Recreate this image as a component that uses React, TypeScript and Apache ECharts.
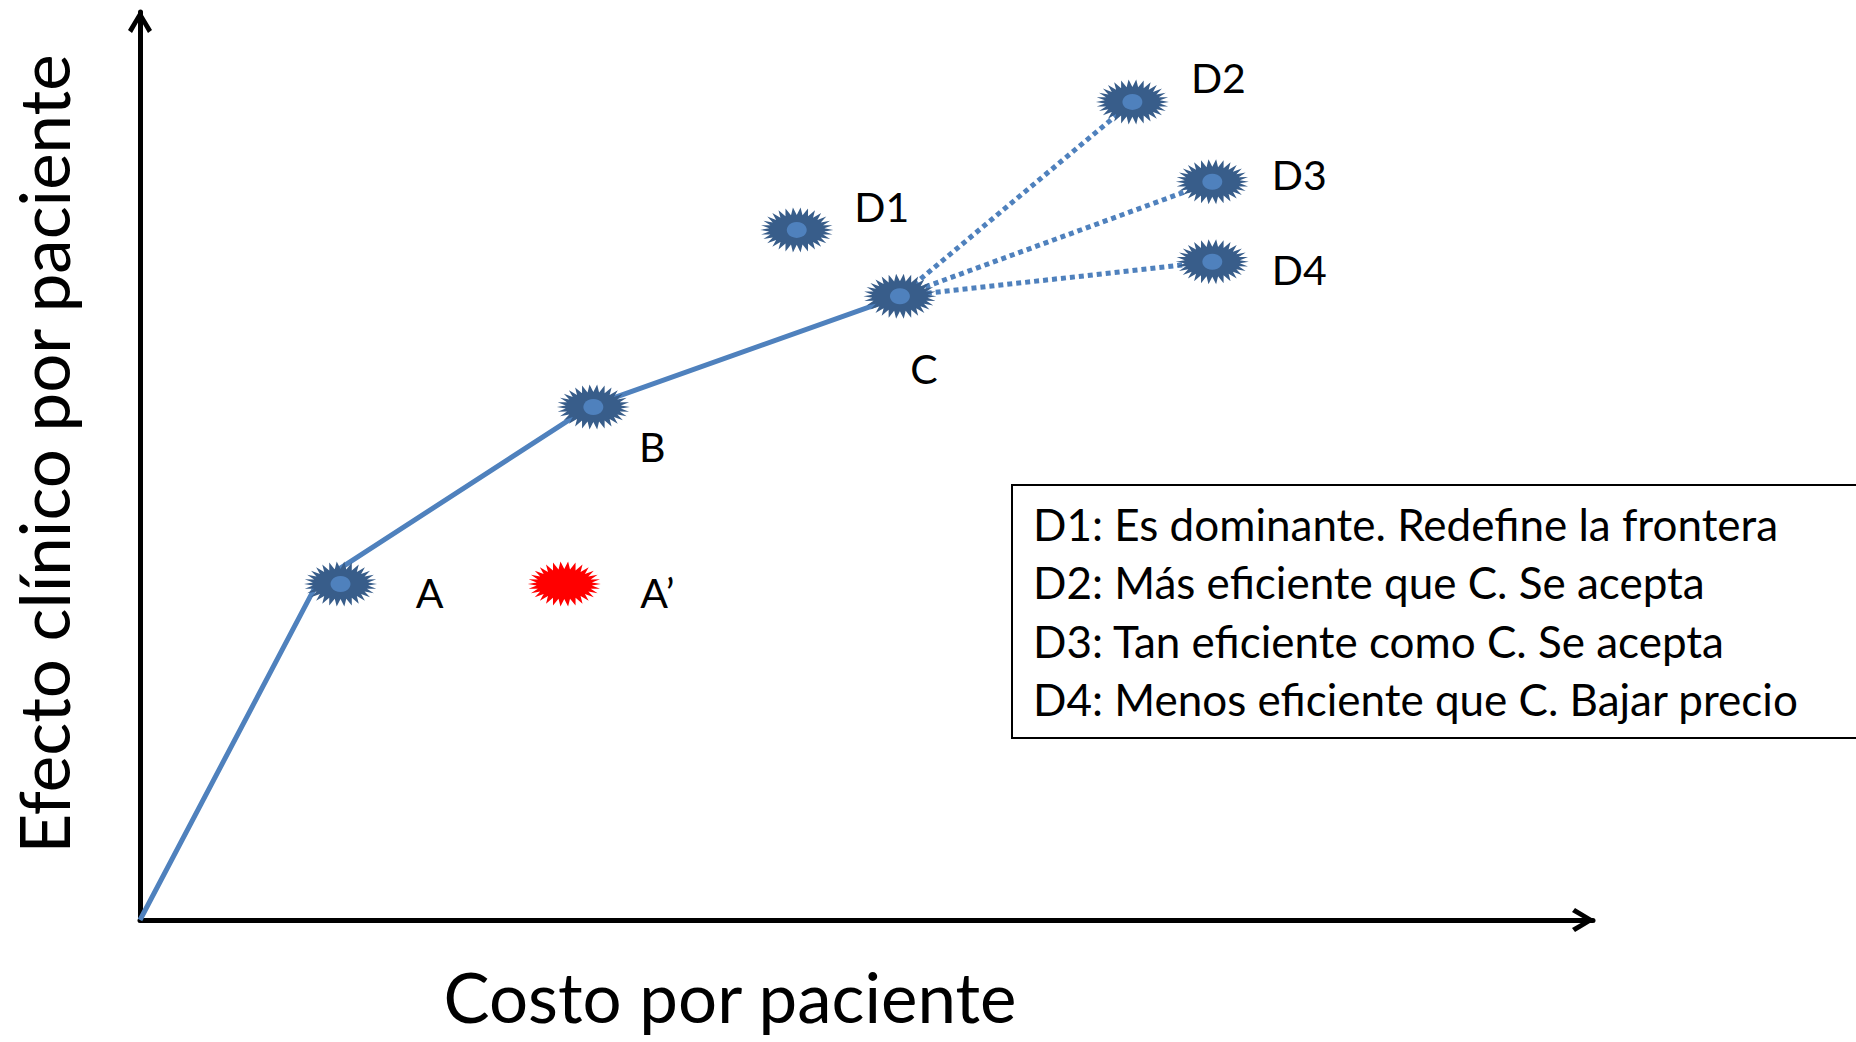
import React, { useEffect, useRef } from "react";
import * as echarts from "echarts";

// Efficiency frontier (cost vs clinical effect), arbitrary units 0..100
const frontierCost = [0, 12.2, 31.0, 52.3];
const frontierEffect = [0, 37.1, 56.6, 68.7];

const pointNames = ["A", "A\u2019", "B", "C", "D1", "D2", "D3", "D4"];
const pointCost = [13.8, 29.2, 31.2, 52.3, 45.2, 68.3, 73.8, 73.8];
const pointEffect = [37.0, 37.0, 56.5, 68.7, 76.0, 90.1, 81.3, 72.5];

// dotted links from C to these points
const linkFrom = "C";
const linkTo = ["D2", "D3", "D4"];

const legendLines = [
  "D1: Es dominante. Redefine la frontera",
  "D2: M\u00e1s eficiente que C. Se acepta",
  "D3: Tan eficiente como C. Se acepta",
  "D4: Menos eficiente que C. Bajar precio",
];

const xTitle = "Costo por paciente";
const yTitle = "Efecto cl\u00ednico por paciente";

// styling: label offsets relative to marker centre (px)
const labelOffsets: Record<string, [number, number]> = {
  A: [89, 8],
  "A\u2019": [93, 8],
  B: [59, 40],
  C: [24, 72],
  D1: [85, -23],
  D2: [86, -24],
  D3: [87, -7],
  D4: [87, 8],
};
const redPoints = ["A\u2019"];

const FONT = "Lato, 'Open Sans', sans-serif";
const BLUE = "#4F81BD";
const DARK = "#385D8A";

function starburst(n: number, irx: number, iry: number): string {
  let d = "";
  for (let i = 0; i < 2 * n; i++) {
    const a = (i * Math.PI) / n;
    const outer = i % 2 === 0;
    const rx = outer ? 50 : irx;
    const ry = outer ? 50 : iry;
    const x = 50 + rx * Math.cos(a);
    const y = 50 + ry * Math.sin(a);
    d += (i === 0 ? "M" : "L") + x.toFixed(2) + "," + y.toFixed(2);
  }
  return "path://" + d + "Z";
}

const chevronUp = "path://M12,0L24,20L20,23L12,9L4,23L0,20Z";

export default function App() {
  const ref = useRef<HTMLDivElement>(null);
  useEffect(() => {
    if (!ref.current) return;
    const chart = echarts.init(ref.current, undefined, { renderer: "svg" });
    const star = starburst(30, 38, 33);
    const idx = (n: string) => pointNames.indexOf(n);
    const ci = idx(linkFrom);

    const linkSeries = linkTo.map((t) => ({
      type: "line",
      z: 2,
      symbol: "none",
      silent: true,
      lineStyle: { color: BLUE, width: 5, type: [5, 4], cap: "butt" },
      data: [
        [pointCost[ci], pointEffect[ci]],
        [pointCost[idx(t)], pointEffect[idx(t)]],
      ],
    }));

    const pts = pointNames.map((n, i) => ({
      name: n,
      value: [pointCost[i], pointEffect[i]],
      itemStyle: { color: redPoints.includes(n) ? "#FF0000" : DARK, opacity: 1 },
      label: { offset: labelOffsets[n] },
    }));

    const axisCommon = {
      type: "value",
      min: 0,
      max: 100,
      axisLine: {
        show: true,
        onZero: false,
        symbol: ["none", chevronUp],
        symbolSize: [24, 23],
        symbolOffset: [0, -9.5],
        lineStyle: { color: "#000", width: 5 },
      },
      axisTick: { show: false },
      axisLabel: { show: false },
      splitLine: { show: false },
    };

    chart.setOption({
      animation: false,
      backgroundColor: "#ffffff",
      grid: { left: 140, right: 263, top: 12, bottom: 122, containLabel: false },
      xAxis: axisCommon,
      yAxis: axisCommon,
      series: [
        {
          type: "line",
          z: 2,
          symbol: "none",
          silent: true,
          lineStyle: { color: BLUE, width: 5 },
          data: frontierCost.map((x, i) => [x, frontierEffect[i]]),
        },
        ...linkSeries,
        {
          type: "scatter",
          z: 3,
          symbol: star,
          symbolSize: [73, 45],
          silent: true,
          itemStyle: { opacity: 1 },
          data: pts,
          label: {
            show: true,
            position: "inside",
            formatter: (p: any) => p.name,
            color: "#000",
            fontFamily: FONT,
            fontSize: 41,
          },
        },
        {
          type: "scatter",
          z: 4,
          symbol: "circle",
          symbolSize: [20, 16],
          silent: true,
          itemStyle: { color: BLUE, opacity: 1 },
          data: pointNames
            .map((n, i) => ({ n, v: [pointCost[i], pointEffect[i]] }))
            .filter((o) => !redPoints.includes(o.n))
            .map((o) => o.v),
        },
      ],
      graphic: [
        {
          type: "rect",
          z: 10,
          shape: { x: 1012, y: 485, width: 900, height: 253 },
          style: { fill: "#fff", stroke: "#000", lineWidth: 2 },
        },
        ...legendLines.map((t, i) => ({
          type: "text",
          z: 11,
          x: 1033,
          y: 524 + i * 58.3,
          style: {
            text: t,
            fill: "#000",
            font: `44px ${FONT}`,
            textAlign: "left",
            textVerticalAlign: "middle",
          },
        })),
        {
          type: "text",
          x: 730,
          y: 996,
          style: {
            text: xTitle,
            fill: "#000",
            font: `69px ${FONT}`,
            lineHeight: 69,
            textAlign: "center",
            textVerticalAlign: "middle",
          },
        },
        {
          type: "text",
          x: 43,
          y: 454,
          rotation: Math.PI / 2,
          style: {
            text: yTitle,
            fill: "#000",
            font: `69px ${FONT}`,
            textAlign: "center",
            textVerticalAlign: "middle",
          },
        },
      ],
    });
    return () => chart.dispose();
  }, []);
  return (
    <div
      ref={ref}
      style={{ position: "absolute", left: 0, top: 0, width: 1856, height: 1042 }}
    />
  );
}
